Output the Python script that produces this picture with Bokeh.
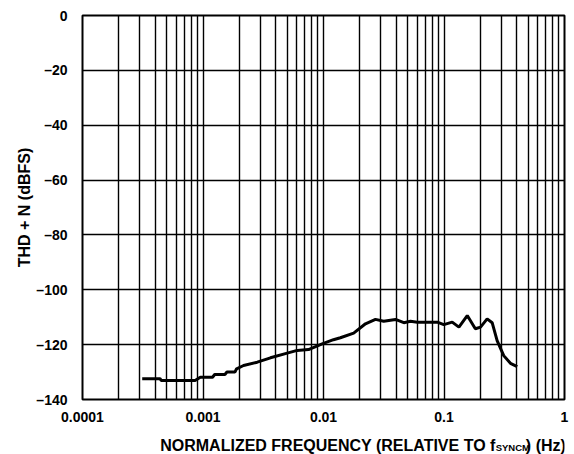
from bokeh.plotting import figure
from bokeh.models import FixedTicker, Range1d
from bokeh.layouts import column
from bokeh.core.properties import value
from bokeh.embed import file_html
from bokeh.resources import INLINE

# data
freq = [3.13e-4, 4.40e-4, 4.50e-4, 8.6e-4, 9.5e-4, 1.20e-3, 1.25e-3, 1.52e-3, 1.58e-3,
        1.84e-3, 1.90e-3, 2.17e-3, 2.82e-3, 3.63e-3, 5.0e-3, 6.05e-3, 7.51e-3, 9.75e-3,
        0.0121, 0.0138, 0.0178, 0.0223, 0.0270, 0.0316, 0.0396, 0.0464, 0.0527, 0.060,
        0.0879, 0.0996, 0.117, 0.133, 0.156, 0.182, 0.201, 0.228, 0.251, 0.276, 0.313,
        0.356, 0.405]
thdn = [-132.4, -132.4, -133.1, -133.1, -131.9, -131.9, -130.9, -130.9, -130.0,
        -130.0, -128.8, -127.6, -126.4, -124.8, -123.1, -122.1, -121.8, -119.7,
        -118.2, -117.5, -115.8, -112.4, -110.8, -111.5, -110.8, -112.0, -111.5, -111.8,
        -111.8, -112.7, -111.8, -113.6, -109.4, -114.2, -113.6, -110.6, -112.0, -118.5,
        -124.0, -126.8, -128.0]

x_ticks = [1e-4, 1e-3, 1e-2, 1e-1, 1]
x_tick_labels = ["0.0001", "0.001", "0.01", "0.1", "1"]
y_ticks = [0, -20, -40, -60, -80, -100, -120, -140]
y_tick_labels = ["0", "\u201320", "\u201340", "\u201360", "\u201380", "\u2013100", "\u2013120", "\u2013140"]
y_title = "THD + N (dBFS)"
x_title_parts = ["NORMALIZED FREQUENCY (RELATIVE TO f", "SYNCM", ") (Hz)"]

minor = []
for d in [1e-4, 1e-3, 1e-2, 1e-1]:
    for k in range(2, 10):
        minor.append(k * d)

FONT = "Liberation Sans"

p = figure(width=574, height=424, x_axis_type="log", x_range=(1e-4, 1), y_range=(-140, 0),
           output_backend="svg", toolbar_location=None,
           min_border_left=82, min_border_right=10, min_border_top=15, min_border_bottom=25)

p.line(freq, thdn, line_color="black", line_width=3)

p.xaxis.ticker = FixedTicker(ticks=x_ticks, minor_ticks=minor)
p.xaxis.major_label_overrides = {t: l for t, l in zip(x_ticks, x_tick_labels)}
p.yaxis.ticker = FixedTicker(ticks=y_ticks)
p.yaxis.major_label_overrides = {t: l for t, l in zip(y_ticks, y_tick_labels)}

for ax in (p.xaxis, p.yaxis):
    ax.axis_line_color = None
    ax.major_tick_line_color = None
    ax.minor_tick_line_color = None
    ax.major_label_text_font = FONT
    ax.major_label_text_font_style = "bold"
    ax.major_label_text_font_size = "14px"
    ax.major_label_text_color = "black"
p.xaxis.major_label_standoff = 6
p.yaxis.major_label_standoff = 9

p.yaxis.axis_label = y_title
p.yaxis.axis_label_text_font = FONT
p.yaxis.axis_label_text_font_style = "bold"
p.yaxis.axis_label_text_font_size = "16px"
p.yaxis.axis_label_text_color = "black"
p.yaxis.axis_label_standoff = 0

p.xgrid.grid_line_color = "black"
p.xgrid.grid_line_width = 1.4
p.xgrid.minor_grid_line_color = "black"
p.xgrid.minor_grid_line_width = 1.4
p.ygrid.grid_line_color = "black"
p.ygrid.grid_line_width = 1.4

p.outline_line_color = "black"
p.outline_line_width = 2
p.background_fill_color = "white"
p.border_fill_color = "white"

# strip below the chart for the x-axis title (with subscript); its ranges are pixel-like
s = figure(width=574, height=30, x_range=Range1d(0, 574), y_range=Range1d(454, 424),
           output_backend="svg", toolbar_location=None,
           x_axis_location=None, y_axis_location=None,
           min_border_left=0, min_border_right=0, min_border_top=0, min_border_bottom=0)
s.outline_line_color = None
s.xgrid.visible = False
s.ygrid.visible = False
s.background_fill_color = "white"
s.border_fill_color = "white"

common = dict(text_font=value(FONT), text_font_style="bold", text_color="black",
              text_baseline="alphabetic")
s.text(x=[492], y=[445], text=[x_title_parts[0]], text_align="right",
       text_font_size="16px", **common)
s.text(x=[492], y=[447], text=[x_title_parts[1]], text_align="left",
       text_font_size="9.5px", **common)
s.text(x=[528], y=[445], text=[x_title_parts[2]], text_align="left",
       text_font_size="16px", **common)

layout = column(p, s, spacing=0)
open("out.html", "w").write(file_html(layout, INLINE))
